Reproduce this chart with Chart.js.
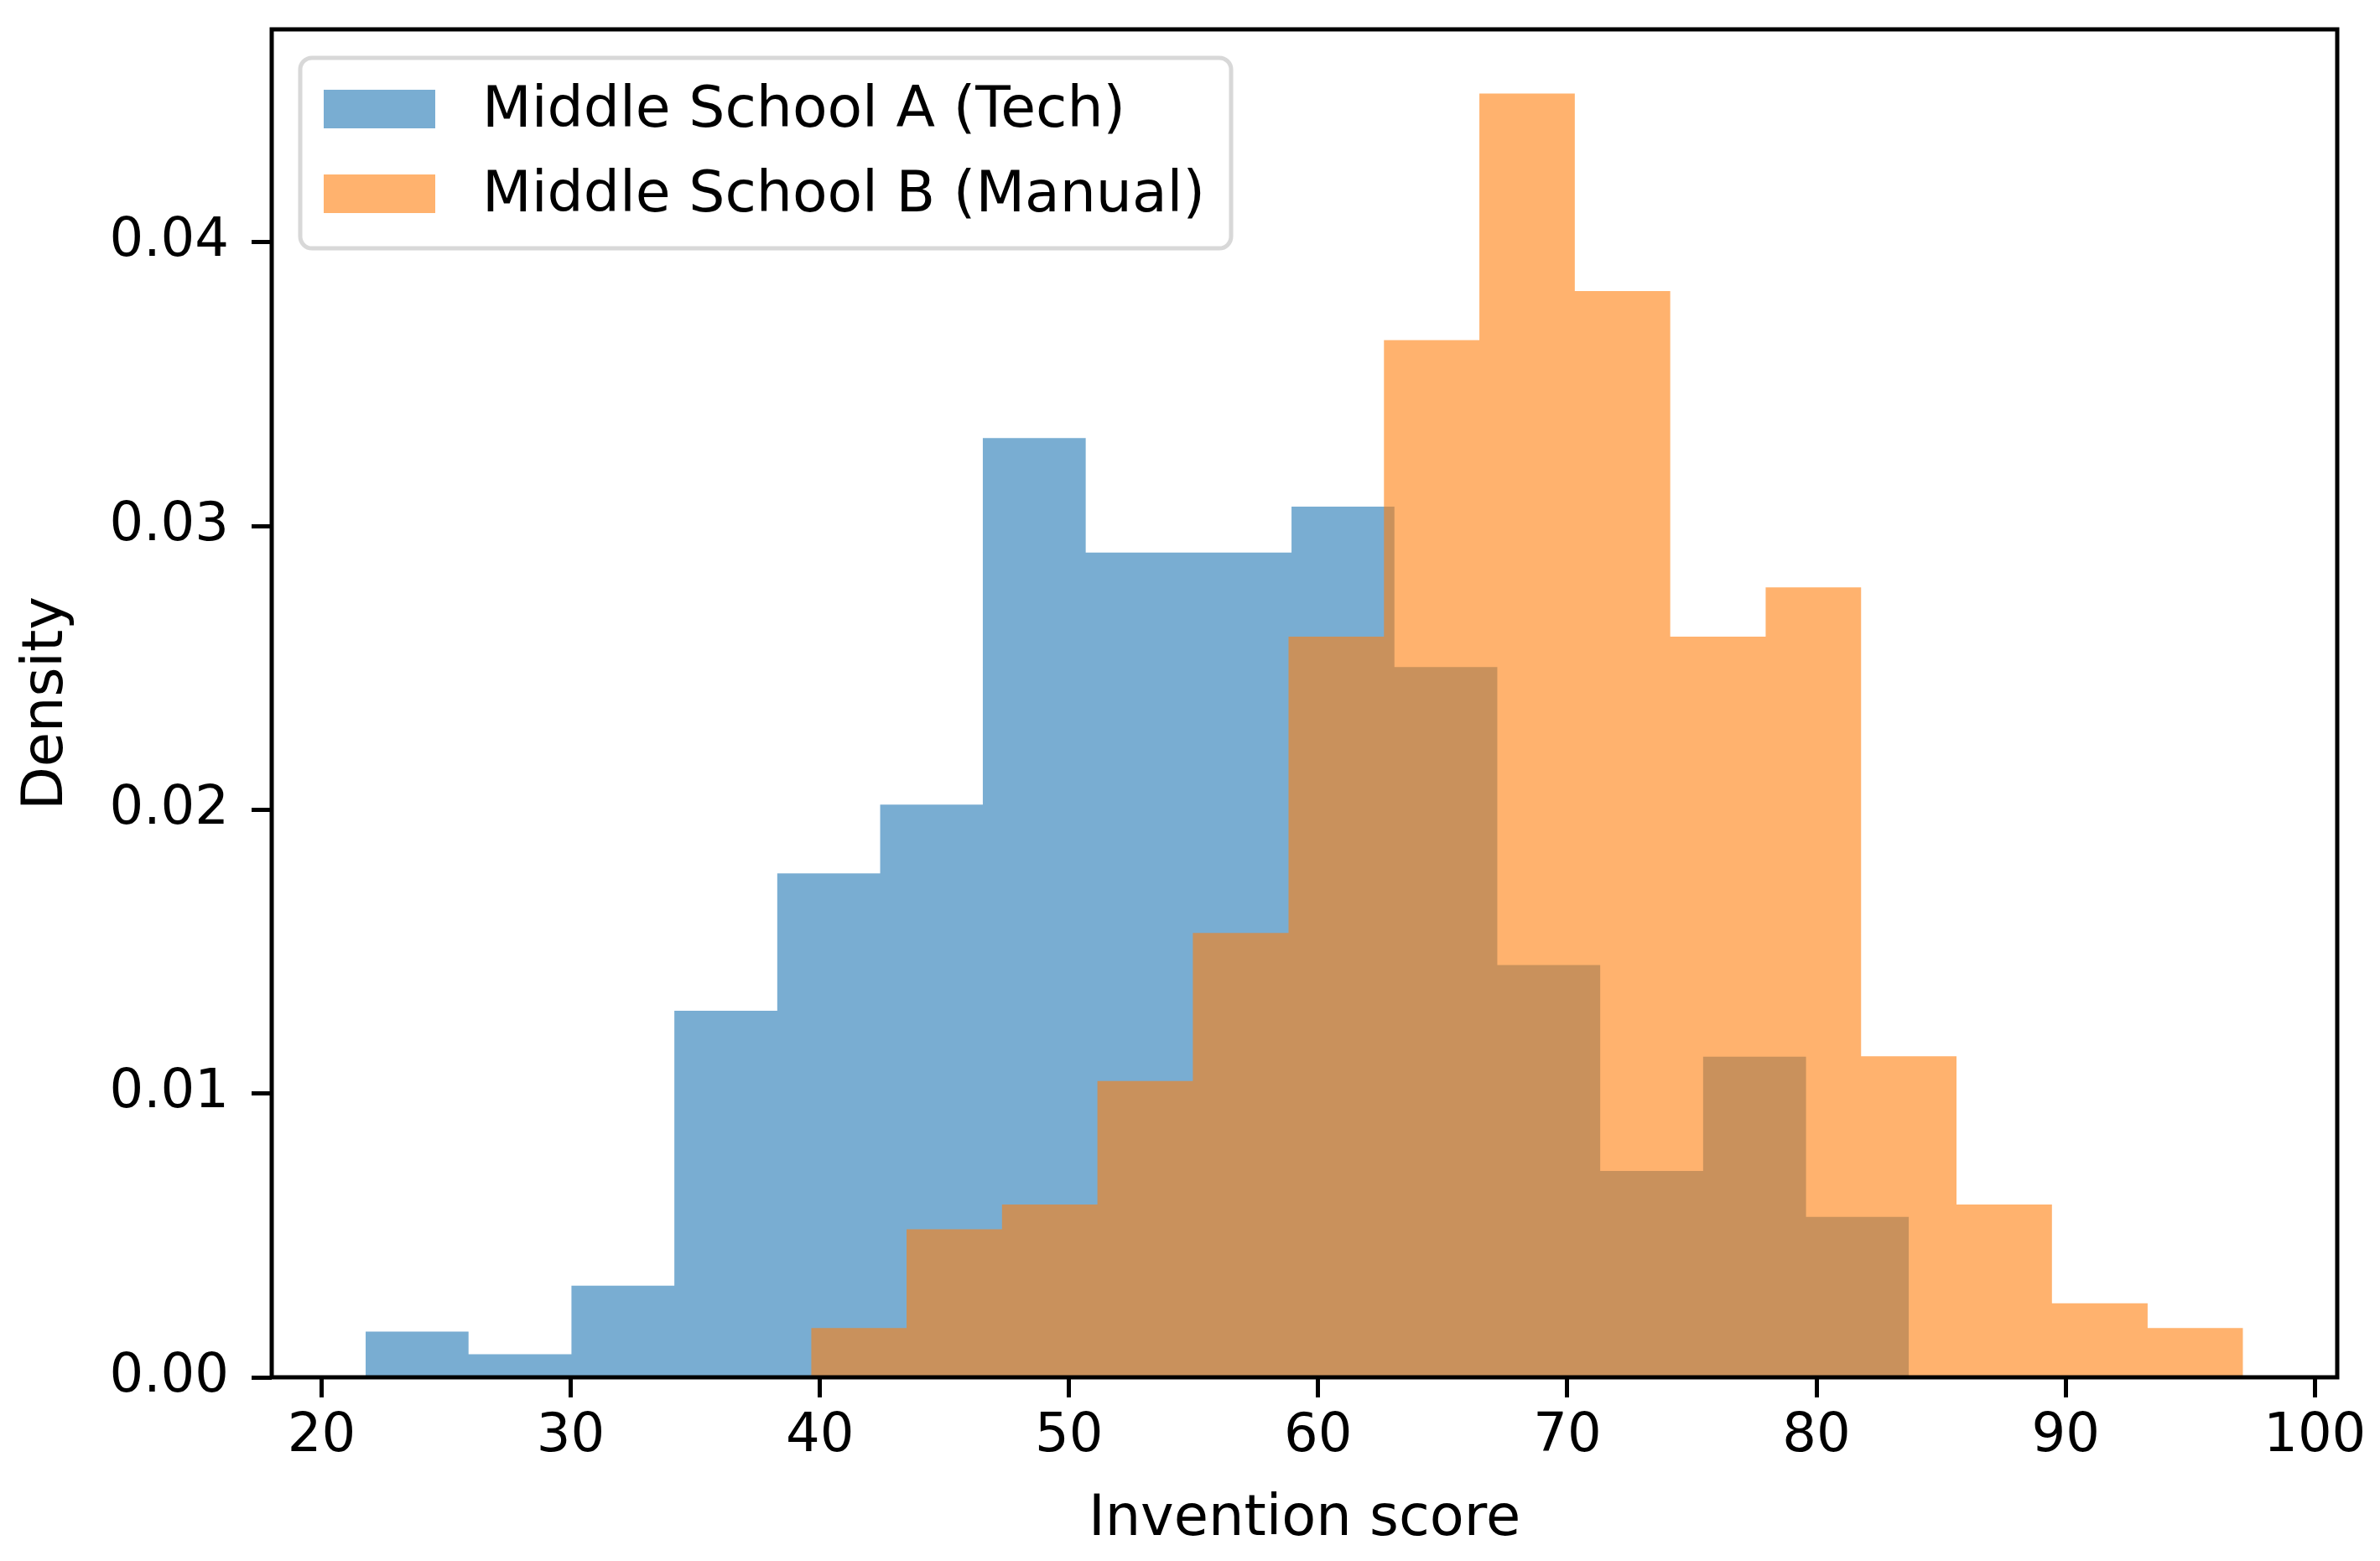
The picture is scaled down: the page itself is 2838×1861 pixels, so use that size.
<!DOCTYPE html>
<html>
<head>
<meta charset="utf-8">
<title>Invention score histogram</title>
<script src="https://cdn.jsdelivr.net/npm/chart.js@4.4.1/dist/chart.umd.min.js"></script>
<style>
  html, body { margin: 0; padding: 0; background: #fff; }
  #wrap { width: 2838px; height: 1861px; }
</style>
</head>
<body>
<div id="wrap"><canvas id="histChart"></canvas></div>
<script>
// histogram bins (density=True, 15 bins each)
const schoolALabel = 'Middle School A (Tech)';
const schoolAEdges = [21.77, 25.90, 30.03, 34.16, 38.29, 42.42, 46.54, 50.67, 54.80, 58.93, 63.06, 67.19, 71.32, 75.45, 79.58, 83.71];
const schoolADensity = [0.00161, 0.00081, 0.00323, 0.01292, 0.01776, 0.02018, 0.03310, 0.02906, 0.02906, 0.03068, 0.02503, 0.01453, 0.00727, 0.01130, 0.00565];

const schoolBLabel = 'Middle School B (Manual)';
const schoolBEdges = [39.65, 43.48, 47.31, 51.14, 54.97, 58.81, 62.64, 66.47, 70.30, 74.13, 77.96, 81.79, 85.62, 89.45, 93.29, 97.12];
const schoolBDensity = [0.00174, 0.00522, 0.00609, 0.01044, 0.01566, 0.02610, 0.03655, 0.04524, 0.03828, 0.02610, 0.02784, 0.01131, 0.00609, 0.00261, 0.00174];

const xTickValues = [20, 30, 40, 50, 60, 70, 80, 90, 100];
const yTickValues = [0, 0.01, 0.02, 0.03, 0.04];
const xTitle = 'Invention score';
const yTitle = 'Density';

Chart.defaults.font.family = "'DejaVu Sans', sans-serif";
Chart.defaults.color = '#000';

// stepped outline: one point per left bin edge, plus the last right edge
function stepPoints(edges, heights) {
  const pts = heights.map((h, i) => ({ x: edges[i], y: h }));
  pts.push({ x: edges[edges.length - 1], y: heights[heights.length - 1] });
  return pts;
}

// matplotlib-like box around the axes, drawn over the bars
const axesFrame = {
  id: 'axesFrame',
  afterDatasetsDraw(chart) {
    const { ctx, chartArea: ca } = chart;
    ctx.save();
    ctx.lineWidth = 5;
    ctx.strokeStyle = '#000';
    ctx.strokeRect(ca.left, ca.top, ca.right - ca.left, ca.bottom - ca.top);
    ctx.restore();
  }
};

// legend in the upper left corner of the axes
const cornerLegend = {
  id: 'cornerLegend',
  afterDraw(chart) {
    const { ctx, chartArea: ca } = chart;
    const left = ca.left + 34;
    const top = ca.top + 34;
    ctx.save();
    ctx.beginPath();
    ctx.roundRect(left, top, 1110, 227, 14);
    ctx.fillStyle = 'rgba(255,255,255,0.8)';
    ctx.fill();
    ctx.lineWidth = 5;
    ctx.strokeStyle = '#d8d8d8';
    ctx.stroke();

    ctx.font = "68px 'DejaVu Sans'";
    ctx.textBaseline = 'middle';
    ctx.textAlign = 'left';
    chart.data.datasets.forEach((ds, i) => {
      const cy = top + 61 + i * 101;
      ctx.fillStyle = ds.backgroundColor;
      ctx.fillRect(left + 28, cy - 23, 133, 46);
      ctx.fillStyle = '#000';
      ctx.fillText(ds.label, left + 217, cy + 3);
    });
    ctx.restore();
  }
};

const ctx = document.querySelector('#histChart').getContext('2d');
const histChart = new Chart(ctx, {
  type: 'line',
  data: {
    datasets: [
      {
        label: schoolALabel,
        data: stepPoints(schoolAEdges, schoolADensity),
        backgroundColor: 'rgba(31,119,180,0.6)',
        borderColor: 'rgba(0,0,0,0)',
        borderWidth: 0,
        pointRadius: 0,
        stepped: 'before',
        fill: 'origin',
        order: 1
      },
      {
        label: schoolBLabel,
        data: stepPoints(schoolBEdges, schoolBDensity),
        backgroundColor: 'rgba(255,127,14,0.6)',
        borderColor: 'rgba(0,0,0,0)',
        borderWidth: 0,
        pointRadius: 0,
        stepped: 'before',
        fill: 'origin',
        order: 0 // drawn on top, like the second hist call
      }
    ]
  },
  options: {
    responsive: true,
    maintainAspectRatio: false,
    animation: false,
    events: [],
    layout: {
      padding: { top: 35, right: 51, left: 0, bottom: 0 }
    },
    scales: {
      x: {
        type: 'linear',
        min: 18.0,
        max: 100.9,
        afterBuildTicks: scale => {
          scale.ticks = xTickValues.map(v => ({ value: v }));
        },
        afterFit: scale => {
          scale.height = 219;
          scale.paddingLeft = 0;
          scale.paddingRight = 0;
        },
        ticks: {
          font: { size: 64 },
          padding: 9,
          maxRotation: 0,
          autoSkip: false,
          callback: v => String(v)
        },
        grid: {
          display: true,
          drawOnChartArea: false,
          drawTicks: true,
          tickLength: 24,
          tickColor: '#000',
          tickWidth: 5
        },
        border: { display: false },
        title: {
          display: true,
          text: xTitle,
          font: { size: 67 },
          padding: { top: 0, bottom: 8 }
        }
      },
      y: {
        type: 'linear',
        min: 0,
        max: 0.0475,
        afterBuildTicks: scale => {
          scale.ticks = yTickValues.map(v => ({ value: v }));
        },
        afterFit: scale => {
          scale.width = 324;
          scale.paddingTop = 0;
          scale.paddingBottom = 0;
        },
        ticks: {
          font: { size: 64 },
          padding: 27,
          autoSkip: false,
          callback: v => v.toFixed(2)
        },
        grid: {
          display: true,
          drawOnChartArea: false,
          drawTicks: true,
          tickLength: 24,
          tickColor: '#000',
          tickWidth: 5
        },
        border: { display: false },
        title: {
          display: true,
          text: yTitle,
          font: { size: 67 },
          padding: { top: 16, bottom: 0 }
        }
      }
    },
    plugins: {
      legend: { display: false },
      tooltip: { enabled: false }
    }
  },
  plugins: [axesFrame, cornerLegend]
});
</script>
</body>
</html>
